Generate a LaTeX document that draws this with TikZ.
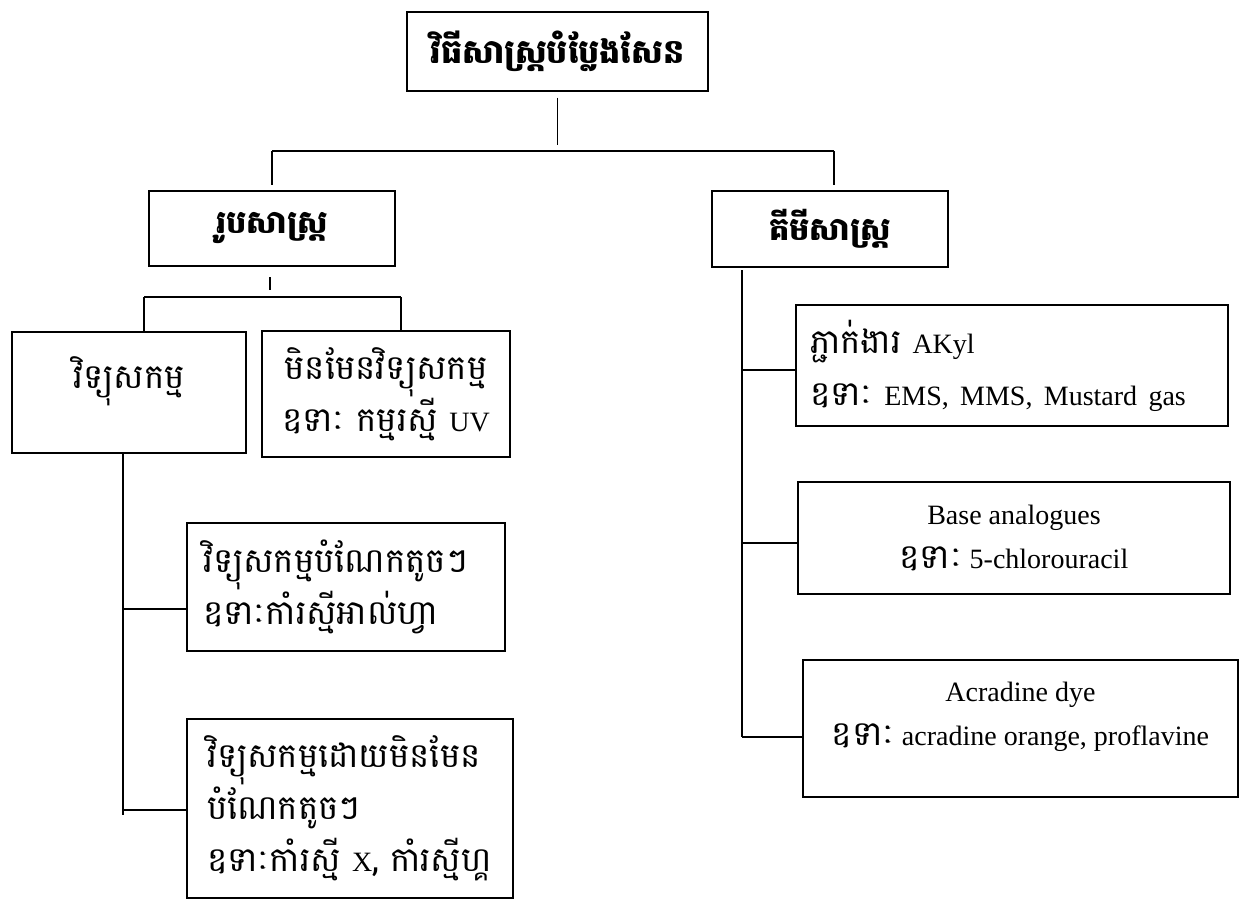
\documentclass[tikz,border=0pt]{standalone}
\usepackage{fontspec}
\setmainfont{Liberation Serif}
\newfontfamily\kh[Script=Khmer]{Battambang}
\newcommand{\kbody}{\kh\fontsize{25.5}{39}\selectfont}
\newcommand{\lbody}{\fontsize{21}{33}\selectfont}
\begin{document}
\begin{tikzpicture}[x=0.75pt,y=-0.75pt,
  box/.style 2 args={draw,line width=0.8pt,minimum width=#1*0.75pt,minimum height=#2*0.75pt,inner sep=0pt,align=center},
  link/.style={line width=0.8pt}]
\useasboundingbox (0,0) rectangle (1240,900);
\node[box={301}{79},font=\kh\bfseries\fontsize{25}{30}\selectfont] (root) at (557.5,51.5) {វិធីសាស្ត្របំប្លែងសែន};
\node[box={246}{75},font=\kh\bfseries\fontsize{24}{30}\selectfont] (phys) at (272,228.5) {រូបសាស្ត្រ};
\node[box={236}{76},font=\kh\bfseries\fontsize{24}{30}\selectfont] (chem) at (830,229) {គីមីសាស្ត្រ};
\node[box={234}{121},font=\kbody,text depth=30pt] (rad) at (129,392.5) {វិទ្យុសកម្ម};
\node[box={248}{126},font=\kbody] (nonrad) at (386,394) {មិនមែនវិទ្យុសកម្ម\\ឧទាៈ កម្មរស្មី {\rmfamily\lbody UV}};
\node[box={318}{128},font=\kbody,align=left,text width=214.5pt,inner xsep=12pt] (small) at (346,587) {វិទ្យុសកម្មបំណែកតូចៗ\\ឧទាៈកាំរស្មីអាល់ហ្វា};
\node[box={326}{179},font=\kbody,align=left,text width=214.5pt,inner xsep=15pt] (nonsmall) at (350,808.5) {វិទ្យុសកម្មដោយមិនមែន\\បំណែកតូចៗ\\\mbox{ឧទាៈកាំរស្មី {\rmfamily\lbody X}, កាំរស្មីហ្គ}};
\node[box={432}{121},font=\kbody,align=left,text width=303pt,inner xsep=10.5pt] (alkyl) at (1012,365.5) {ភ្ជាក់ងារ {\rmfamily\lbody AKyl}\\ឧទាៈ {\rmfamily\lbody EMS, MMS, Mustard gas}};
\node[box={432}{112},font=\lbody] (base) at (1014,538) {Base analogues\\{\kbody ឧទាៈ} 5-chlorouracil};
\node[box={435}{137},font=\lbody,text depth=22pt] (acrad) at (1020.5,728.5) {Acradine dye\\{\kbody ឧទាៈ} acradine orange, proflavine};
% top level
\coordinate (tl) at (272,151); \coordinate (tr) at (834,151);
\draw[link] ([yshift=-4.5pt]root.south) -- ([yshift=4.5pt]root.south |- tl);
\draw[link] (tl) -- (tr);
\draw[link] (tl) -- ([yshift=3.75pt]phys.north -| tl);
\draw[link] (tr) -- ([yshift=3.75pt]chem.north -| tr);
% physical
\coordinate (pl) at (144,297); \coordinate (pr) at (401,297);
\draw[link] ([yshift=-8pt]phys.south -| 270,0) -- ([yshift=5pt]pl -| 270,0);
\draw[link] (pl) -- (pr);
\draw[link] (pl) -- (rad.north -| pl);
\draw[link] (pr) -- (nonrad.north -| pr);
\coordinate (lj1) at (123,609); \coordinate (lj2) at (123,810); \coordinate (lend) at (123,815);
\draw[link] (rad.south -| lj1) -- (lend);
\draw[link] (lj1) -- (small.west |- lj1);
\draw[link] (lj2) -- (nonsmall.west |- lj2);
% chemical
\coordinate (rj1) at (742,370); \coordinate (rj2) at (742,543); \coordinate (rj3) at (742,737);
\draw[link] ([yshift=-2pt]chem.south -| rj1) -- (rj3);
\draw[link] (rj1) -- (alkyl.west |- rj1);
\draw[link] (rj2) -- (base.west |- rj2);
\draw[link] (rj3) -- (acrad.west |- rj3);
\end{tikzpicture}
\end{document}
